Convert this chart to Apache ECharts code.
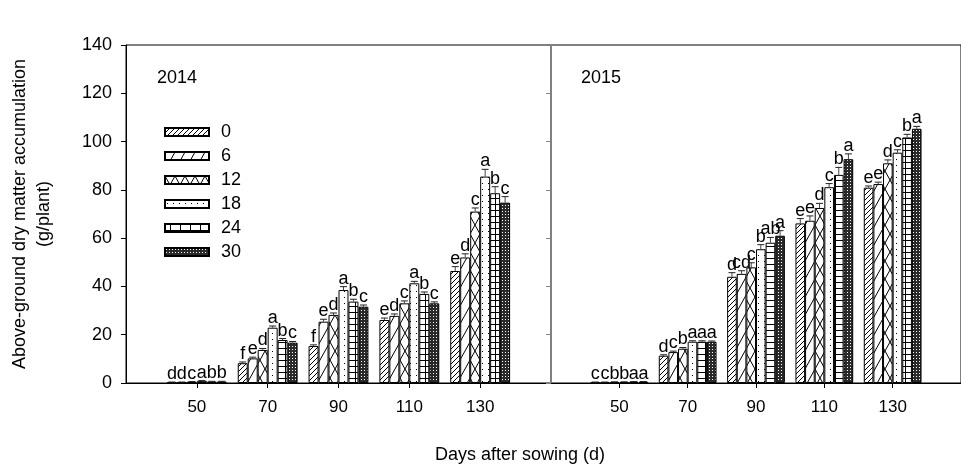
<!DOCTYPE html>
<html>
<head>
<meta charset="utf-8">
<script src="https://cdn.jsdelivr.net/npm/echarts@6/dist/echarts.min.js"></script>
<style>
  html, body { margin: 0; padding: 0; background: #fff; }
  #chart { width: 961px; height: 470px; }
</style>
</head>
<body>
<div id="chart"></div>
<script>
// sowing-day groups; axis gets an empty slot at each end (30 and 150)
const days = ['50', '70', '90', '110', '130'];
const treatments = ['0', '6', '12', '18', '24', '30'];

// rows = treatment, cols = day
const mean2014 = [
  [0.3, 8.2, 15.3, 26.1, 46.4],
  [0.3, 10.2, 25.4, 27.8, 52.0],
  [0.5, 13.7, 28.2, 33.0, 71.0],
  [0.9, 22.9, 38.5, 41.3, 85.5],
  [0.6, 17.8, 33.7, 36.9, 78.6],
  [0.6, 16.7, 31.6, 33.0, 74.7]
];
const err2014 = [
  [0.1, 0.5, 0.5, 0.8, 1.8],
  [0.1, 0.5, 1.0, 0.8, 1.5],
  [0.1, 0.6, 0.8, 1.0, 1.5],
  [0.1, 0.7, 1.4, 0.8, 3.0],
  [0.1, 0.6, 1.0, 0.8, 2.7],
  [0.1, 0.5, 0.7, 0.6, 2.5]
];
const letters2014 = [
  ['d', 'f', 'f', 'e', 'e'],
  ['d', 'e', 'e', 'd', 'd'],
  ['c', 'd', 'd', 'c', 'c'],
  ['a', 'a', 'a', 'a', 'a'],
  ['b', 'b', 'b', 'b', 'b'],
  ['b', 'c', 'c', 'c', 'c']
];

const mean2015 = [
  [0.3, 11.3, 44.0, 66.1, 80.9],
  [0.3, 12.8, 45.2, 67.2, 82.4],
  [0.4, 14.2, 47.9, 72.5, 91.0],
  [0.4, 17.1, 55.4, 81.1, 95.4],
  [0.5, 17.1, 58.1, 86.2, 101.7],
  [0.5, 17.1, 61.0, 92.7, 105.3]
];
const err2015 = [
  [0.1, 0.4, 1.7, 2.0, 0.7],
  [0.1, 0.4, 1.3, 2.0, 0.8],
  [0.1, 0.5, 1.9, 1.9, 1.4],
  [0.1, 0.4, 1.9, 1.5, 1.2],
  [0.1, 0.4, 2.2, 3.1, 1.3],
  [0.1, 0.3, 2.1, 2.2, 1.0]
];
const letters2015 = [
  ['c', 'd', 'd', 'e', 'e'],
  ['c', 'c', 'cd', 'e', 'e'],
  ['b', 'b', 'c', 'd', 'd'],
  ['b', 'a', 'b', 'c', 'c'],
  ['a', 'a', 'ab', 'b', 'b'],
  ['a', 'a', 'a', 'a', 'a']
];

const FONT = 'Liberation Sans, Arial, sans-serif';
const GAP = 0.155;

function tile(w, h, draw, bg) {
  const c = document.createElement('canvas');
  c.width = w; c.height = h;
  const g = c.getContext('2d');
  g.fillStyle = bg || '#fff';
  g.fillRect(0, 0, w, h);
  g.strokeStyle = '#000';
  g.fillStyle = '#000';
  g.lineWidth = 1;
  draw(g, w, h);
  return { image: c, repeat: 'repeat' };
}
function seg(g, x1, y1, x2, y2) {
  g.beginPath(); g.moveTo(x1, y1); g.lineTo(x2, y2); g.stroke();
}

const patterns = [
  tile(5, 5, (g, w, h) => { [-w, 0, w].forEach(k => seg(g, k, h, k + w, 0)); }),
  tile(10, 18, (g, w, h) => { [-w, 0, w].forEach(k => seg(g, k, h, k + w, 0)); }),
  tile(10, 18, (g, w, h) => {
    [-w, 0, w].forEach(k => { seg(g, k, 0, k + w, h); seg(g, k + w, 0, k, h); });
  }),
  tile(6, 6, (g) => { g.fillRect(2, 3, 1, 1); }),
  tile(10, 6, (g, w, h) => { seg(g, 0, 0.5, w, 0.5); seg(g, 5.5, 0, 5.5, h); }),
  tile(3, 3, (g) => { g.fillStyle = '#fff'; g.fillRect(1, 1, 1, 1); }, '#2a2a2a')
];

const axisData = ['30'].concat(days, ['150']);
const inner = i => i > 0 && i < axisData.length - 1;

function barSeries(means, gi) {
  return treatments.map((t, ti) => ({
    name: t,
    type: 'bar',
    xAxisIndex: gi,
    yAxisIndex: gi,
    barGap: '0%',
    barCategoryGap: (GAP * 100) + '%',
    itemStyle: { color: patterns[ti], borderColor: '#000', borderWidth: 1 },
    data: ['-'].concat(means[ti], ['-'])
  }));
}

function errSeries(means, errs, letters, gi) {
  const data = [];
  const labs = [];
  means.forEach((row, ti) => row.forEach((m, di) => {
    data.push([di + 1, m, errs[ti][di], ti]);
    labs.push(letters[ti][di]);
  }));
  return {
    type: 'custom',
    xAxisIndex: gi,
    yAxisIndex: gi,
    z: 5,
    encode: { x: 0, y: 1 },
    data: data,
    renderItem: function (params, api) {
      const band = api.size([1, 0])[0];
      const bw = band * (1 - GAP) / 6;
      const c = api.coord([api.value(0), api.value(1)]);
      const top = api.coord([api.value(0), api.value(1) + api.value(2)])[1];
      const x = c[0] + (api.value(3) - 2.5) * bw;
      return {
        type: 'group',
        children: [
          { type: 'line', shape: { x1: x, y1: c[1], x2: x, y2: top }, style: { stroke: '#444', lineWidth: 1 } },
          { type: 'line', shape: { x1: x - 3.5, y1: top, x2: x + 3.5, y2: top }, style: { stroke: '#222', lineWidth: 1 } },
          { type: 'text', x: x, y: top + 1,
            style: { text: labs[params.dataIndex], align: 'center', verticalAlign: 'bottom',
                     font: '18px ' + FONT, fill: '#000' } }
        ]
      };
    }
  };
}

function xAxis(gi) {
  return {
    type: 'category',
    gridIndex: gi,
    data: axisData,
    boundaryGap: false,
    axisLine: { lineStyle: { color: '#000', width: 1 } },
    axisTick: { length: 5, interval: inner, lineStyle: { color: '#000' } },
    axisLabel: { interval: inner, margin: 16, color: '#000', fontSize: 17, fontFamily: FONT },
    splitLine: { show: false }
  };
}

const chart = echarts.init(document.getElementById('chart'));
chart.setOption({
  animation: false,
  backgroundColor: '#fff',
  textStyle: { fontFamily: FONT },
  grid: [
    { left: 126, top: 45, width: 425, height: 338, show: true, borderColor: '#000', borderWidth: 1, backgroundColor: 'transparent' },
    { left: 551, top: 45, width: 426, height: 338, show: true, borderColor: '#000', borderWidth: 1, backgroundColor: 'transparent' }
  ],
  legend: {
    data: treatments,
    orient: 'vertical',
    left: 159,
    top: 118,
    icon: 'rect',
    itemWidth: 44,
    itemHeight: 8,
    itemGap: 6,
    selectedMode: false,
    textStyle: { fontSize: 18, lineHeight: 18, color: '#000', fontFamily: FONT, padding: [0, 0, 0, 7] }
  },
  xAxis: [xAxis(0), xAxis(1)],
  yAxis: [
    {
      type: 'value', gridIndex: 0, min: 0, max: 140, interval: 20,
      axisLine: { show: true, lineStyle: { color: '#000', width: 1 } },
      axisTick: { show: true, length: 5, lineStyle: { color: '#000' } },
      axisLabel: { margin: 14, color: '#000', fontSize: 18, fontFamily: FONT },
      splitLine: { show: false }
    },
    {
      type: 'value', gridIndex: 1, min: 0, max: 140, interval: 20,
      axisLine: { show: true, lineStyle: { color: '#808080', width: 2 } },
      axisTick: { show: true, length: 5, lineStyle: { color: '#808080' } },
      axisLabel: { show: false },
      splitLine: { show: false }
    }
  ],
  graphic: [
    { type: 'text', x: 157, y: 78, style: { text: '2014', font: '18px ' + FONT, fill: '#000', verticalAlign: 'middle' } },
    { type: 'text', x: 581, y: 78, style: { text: '2015', font: '18px ' + FONT, fill: '#000', verticalAlign: 'middle' } },
    { type: 'text', x: 20, y: 214, rotation: Math.PI / 2,
      style: { text: 'Above-ground dry matter accumulation', font: '18px ' + FONT, fill: '#000', align: 'center', verticalAlign: 'middle' } },
    { type: 'text', x: 44, y: 214, rotation: Math.PI / 2,
      style: { text: '(g/plant)', font: '18px ' + FONT, fill: '#000', align: 'center', verticalAlign: 'middle' } },
    { type: 'text', x: 520, y: 455,
      style: { text: 'Days after sowing (d)', font: '18px ' + FONT, fill: '#000', align: 'center', verticalAlign: 'middle' } }
  ],
  series: barSeries(mean2014, 0).concat(
    [errSeries(mean2014, err2014, letters2014, 0)],
    barSeries(mean2015, 1),
    [errSeries(mean2015, err2015, letters2015, 1)]
  )
});
</script>
</body>
</html>
